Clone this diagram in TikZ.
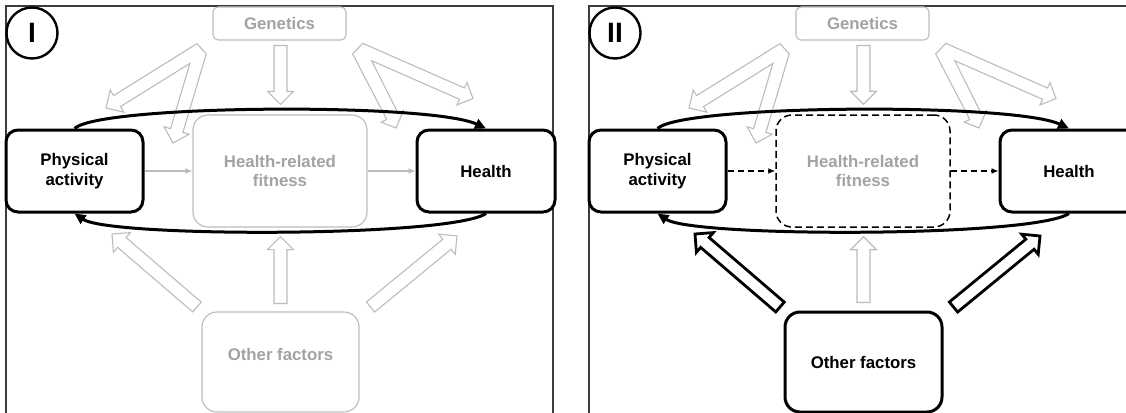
\documentclass[tikz,border=0pt]{standalone}
\usepackage{fontspec}
\setmainfont{Liberation Sans}
\usetikzlibrary{calc,arrows.meta}

\definecolor{paleline}{RGB}{188,188,188}
\definecolor{paletext}{RGB}{163,163,163}
\definecolor{framegray}{RGB}{60,60,60}

\tikzset{
  txt/.style={font=\bfseries\fontsize{16.8}{19.5}\selectfont, align=center, inner sep=0pt},
  frame/.style={draw=framegray, line width=1.2pt},
  softbox/.style={txt, draw=paleline, line width=1.1pt, fill=white, text=paletext},
  strongbox/.style={txt, draw=black, line width=3pt, fill=white, rounded corners=12pt},
  softarrow/.style={draw=paleline, line width=1.1pt, fill=white},
  hardarrow/.style={draw=black, line width=2.8pt, fill=white},
  numeral/.style={circle, draw=black, line width=2.4pt, minimum size=51pt, inner sep=0pt,
    font=\bfseries\fontsize{28}{28}\selectfont},
  loopline/.style={draw=black, line width=3pt, -{Triangle[length=11pt,width=10pt]}},
}

% hollow block arrow from #2 to #3
\newcommand\blockarrow[3][]{%
  \coordinate (ba-base) at ($(#3)!13pt!(#2)$);
  \draw[#1] ($(#2)!6.5pt!90:(#3)$) -- ($(ba-base)!6.5pt!90:(#3)$)
    -- ($(ba-base)!13pt!90:(#3)$) -- (#3)
    -- ($(ba-base)!13pt!-90:(#3)$) -- ($(ba-base)!6.5pt!-90:(#3)$)
    -- ($(#2)!6.5pt!-90:(#3)$) -- cycle;
}

% one panel: #1 name suffix, #2 numeral, #3 height of the "Other factors" label
\newcommand\panel[3]{%
  \draw[frame] (6,6) rectangle (553,440);
  % forked arrows leaving Genetics
  \draw[softarrow] (197,43.6) -- (206.2,54) -- (182.9,132.4) -- (189.2,134.2)
    -- (173,143) -- (164.2,126.8) -- (170.5,128.7) -- (189.9,63.4)
    -- (120.5,106.6) -- (123.9,112.2) -- (106,108) -- (110.2,90.1)
    -- (113.6,95.6) -- cycle;
  \draw[softarrow] (362.7,43.3) -- (464.5,88) -- (467,82.5) -- (473,98.5)
    -- (457,105) -- (459.5,99.3) -- (371.7,60.7) -- (398.1,113.4)
    -- (403.5,110.6) -- (396,128) -- (381.3,122.2) -- (386.7,119.4)
    -- (352.7,54) -- cycle;
  % boxes
  \node[softbox, rounded corners=5pt, minimum width=133pt, minimum height=33pt]
    (gen#1) at (279.5,23.5) {Genetics};
  \node[strongbox, minimum width=137pt, minimum height=82pt]
    (pa#1) at (74.5,171) {Physical\\activity};
  \node[hrfbox, minimum width=174pt, minimum height=112pt]
    (hrf#1) at (280,171) {Health-related\\fitness};
  \node[strongbox, minimum width=138pt, minimum height=82pt]
    (hea#1) at (486,171) {Health};
  \node[othbox, minimum width=157pt, minimum height=100pt]
    (oth#1) at (280.5,362) {};
  \node[othtext] (othlabel#1) at (280.5,#3) {Other factors};
  % straight block arrows
  \coordinate (g2h-s#1) at ($(gen#1.south)+(1,5)$);
  \coordinate (g2h-t#1) at ($(hrf#1.north)+(0.5,-10)$);
  \coordinate (o2h-s#1) at ($(oth#1.north)+(0,-8)$);
  \coordinate (o2h-t#1) at ($(hrf#1.south)+(0.5,9)$);
  \coordinate (o2p-s#1) at (197,307);
  \coordinate (o2p-t#1) at (112,234);
  \coordinate (o2e-s#1) at (370.5,307);
  \coordinate (o2e-t#1) at (457,236);
  \blockarrow[softarrow]{g2h-s#1}{g2h-t#1}
  \blockarrow[softarrow]{o2h-s#1}{o2h-t#1}
  \blockarrow[otharrow]{o2p-s#1}{o2p-t#1}
  \blockarrow[otharrow]{o2e-s#1}{o2e-t#1}
  % links through fitness
  \draw[link] (pa#1.east) -- (hrf#1.west);
  \draw[link] (hrf#1.east) -- (hea#1.west);
  % reciprocal loop between activity and health
  \draw[loopline] (pa#1.north) .. controls +(25.5,-24) and +(-56,-26) .. (hea#1.north);
  \draw[loopline] (hea#1.south) .. controls +(-36,24) and +(35.5,24) .. (pa#1.south);
  \node[numeral] (num#1) at (32,33) {#2};
}

\begin{document}
\begin{tikzpicture}[x=1pt, y=-1pt]
  \useasboundingbox (0,0) rectangle (1126,412);
  \clip (0,0) rectangle (1126,412);
  \fill[white] (0,0) rectangle (1126,412);
  \begin{scope}[
      hrfbox/.style={softbox, rounded corners=15pt},
      othbox/.style={softbox, rounded corners=15pt},
      othtext/.style={txt, text=paletext},
      otharrow/.style={softarrow},
      link/.style={draw=paleline, line width=1.1pt, -{Latex[length=7pt,width=6pt]}}]
    \panel{I}{I}{354}
  \end{scope}
  \begin{scope}[xshift=583pt,
      hrfbox/.style={txt, draw=black, line width=1.5pt, dash pattern=on 7pt off 4pt,
        rounded corners=16pt, fill=white, text=paletext},
      othbox/.style={strongbox, rounded corners=15pt},
      othtext/.style={txt, text=black},
      otharrow/.style={hardarrow},
      link/.style={draw=black, line width=1.3pt, dash pattern=on 6pt off 4pt,
        -{Latex[length=7pt,width=6pt]}}]
    \panel{II}{II}{362}
  \end{scope}
\end{tikzpicture}
\end{document}
